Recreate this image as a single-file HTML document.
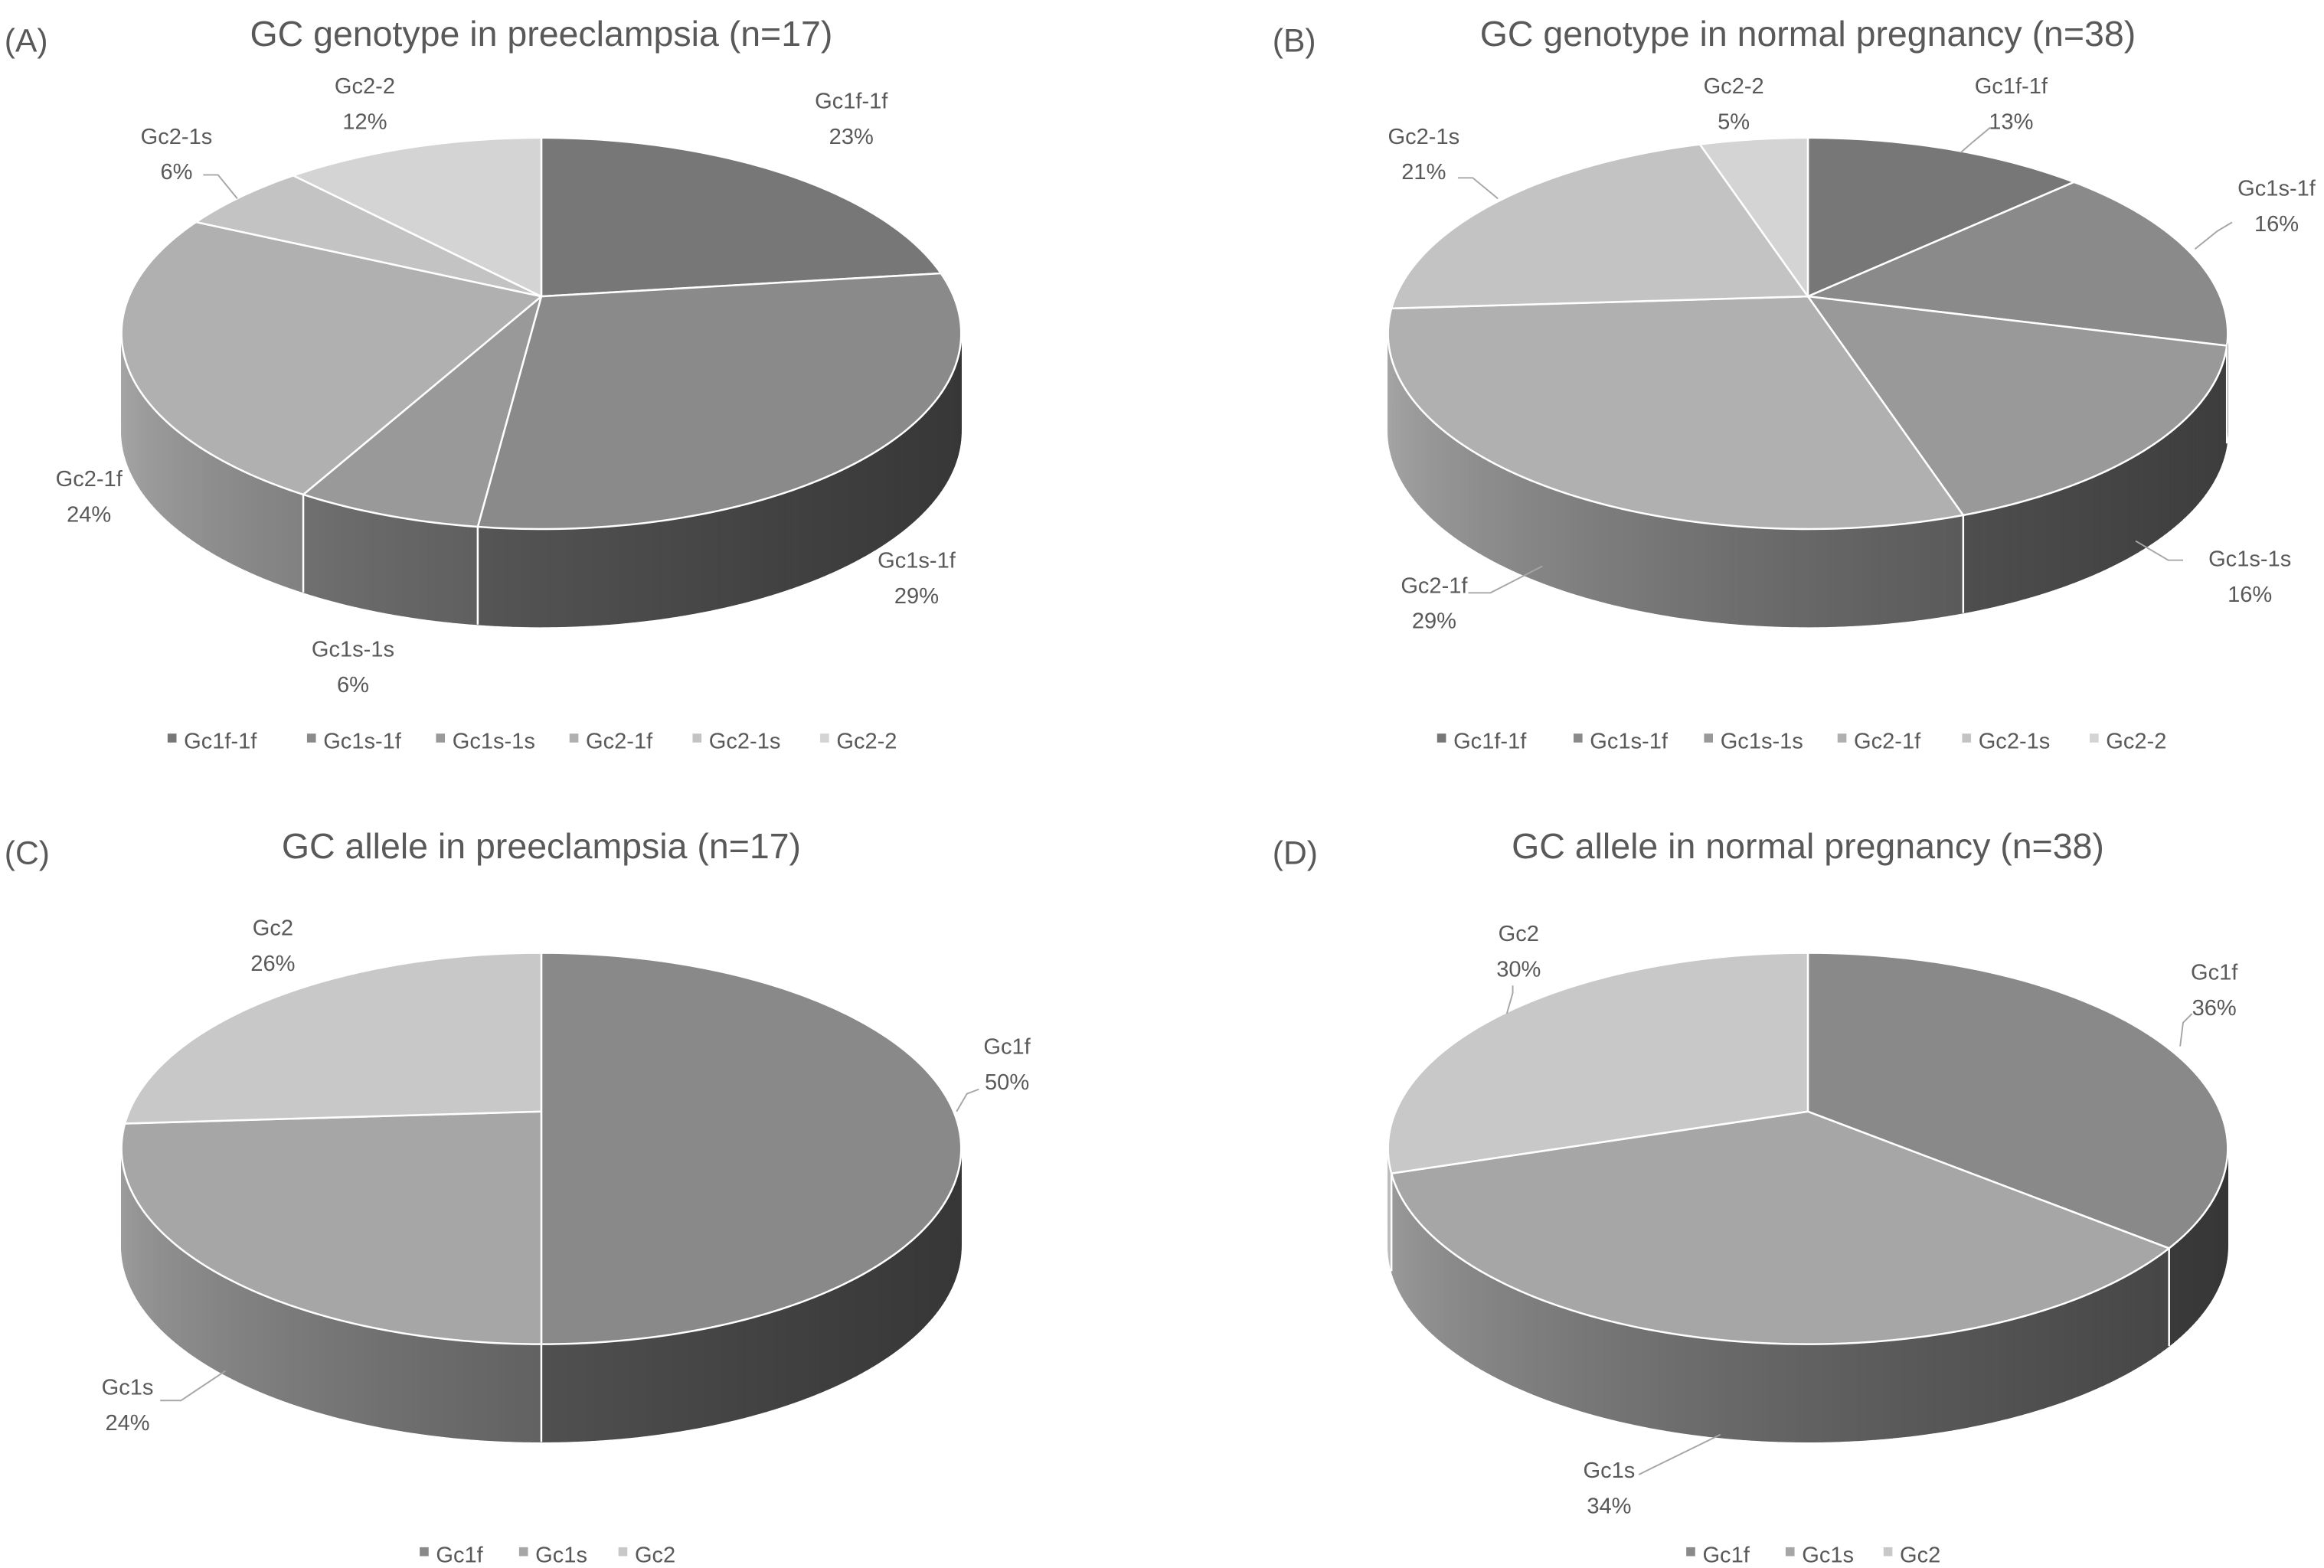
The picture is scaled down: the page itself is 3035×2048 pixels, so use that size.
<!DOCTYPE html>
<html><head><meta charset="utf-8"><style>
html,body{margin:0;padding:0;background:#fff;}
svg{display:block;}
text{font-family:"Liberation Sans",sans-serif;fill:#595959;}
</style></head><body>
<svg id="chart" width="3035" height="2048" viewBox="0 0 1567 1058" preserveAspectRatio="none" xmlns="http://www.w3.org/2000/svg">
<g id="pies"></g>
<g id="labels">
<text x="3" y="35" font-size="22">(A)</text>
<text x="858" y="35" font-size="22">(B)</text>
<text x="3" y="583" font-size="22">(C)</text>
<text x="858" y="583" font-size="22">(D)</text>
<text x="365" y="31" font-size="24" text-anchor="middle">GC genotype in preeclampsia (n=17)</text>
<text x="1219" y="31" font-size="24" text-anchor="middle">GC genotype in normal pregnancy (n=38)</text>
<text x="365" y="579" font-size="24" text-anchor="middle">GC allele in preeclampsia (n=17)</text>
<text x="1219" y="579" font-size="24" text-anchor="middle">GC allele in normal pregnancy (n=38)</text>
</g>
<g id="leaders" stroke="#a6a6a6" stroke-width="1" fill="none">
<polyline points="137,118 147,118 160,134"/>
<polyline points="1342,86 1330,96 1322,103"/>
<polyline points="1505,150 1495,156 1480,168"/>
<polyline points="1472,378 1462,378 1440,365"/>
<polyline points="990,400 1005,400 1040,382"/>
<polyline points="983,120 993,120 1010,134"/>
<polyline points="660,735 652,738 645,750"/>
<polyline points="108,945 122,945 152,925"/>
<polyline points="1478,684 1472,690 1470,706"/>
<polyline points="1105,995 1115,990 1160,968"/>
<polyline points="1020,665 1020,670 1016,684"/>
</g>
<g id="legends"></g>
</svg>
<script>
const panelANames = ["Gc1f-1f","Gc1s-1f","Gc1s-1s","Gc2-1f","Gc2-1s","Gc2-2"];
const panelAPercents = [23,29,6,24,6,12];
const panelBNames = ["Gc1f-1f","Gc1s-1f","Gc1s-1s","Gc2-1f","Gc2-1s","Gc2-2"];
const panelBPercents = [13,16,16,29,21,5];
const panelCNames = ["Gc1f","Gc1s","Gc2"];
const panelCPercents = [50,24,26];
const panelDNames = ["Gc1f","Gc1s","Gc2"];
const panelDPercents = [36,34,30];
const genotypeColors = [119,138,153,176,195,212];
const alleleColors = [137,166,200];

const NS = "http://www.w3.org/2000/svg";
const P = 0.189, R = 278, RY = 127.3, DEPTH = 66;
function proj(cx, cy, th){
  const u = Math.sin(th), v = -Math.cos(th), w = 1 - P*v;
  return [cx + R*u/w, cy + RY*v/w];
}
function grey(g){ g=Math.max(0,Math.min(255,Math.round(g))); return "rgb("+g+","+g+","+g+")"; }
function mk(tag, attrs, parent){ const e=document.createElementNS(NS,tag); for(const k in attrs) e.setAttribute(k,attrs[k]); parent.appendChild(e); return e; }

function drawPie(id, cx, cy, names, values, colors, labelSpec){
  const root = document.getElementById("pies");
  const g = mk("g",{},root);
  
  
  const total = values.reduce((a,b)=>a+b,0);
  const sides = mk("g",{},g);
  const tops = mk("g",{},g);
  let a0 = 0;
  const bounds = [];
  values.forEach((c,i)=>{
    const a1 = a0 + c/total*2*Math.PI;
    bounds.push(a0);
    const steps = Math.max(4, Math.ceil((a1-a0)/(Math.PI/180)));
    const angs = [];
    for(let s=0;s<=steps;s++) angs.push(a0+(a1-a0)*s/steps);
    const pts = angs.map(a=>proj(cx,cy,a));
    for(let s=0;s<steps;s++){
      const am=(angs[s]+angs[s+1])/2;
      if(-Math.cos(am) < P-0.12) continue;
      const p1=pts[s], p2=pts[s+1];
      const xm=(p1[0]+p2[0])/2;
      const t=Math.max(0,Math.min(1,(xm-(cx-R*1.02))/(2*R*1.02)));
      const f=0.95-0.55*Math.pow(t,0.6);
      const col=grey(colors[i]*f);
      const q=mk("polygon",{points:`${p1[0]},${p1[1]} ${p2[0]},${p2[1]} ${p2[0]},${p2[1]+DEPTH} ${p1[0]},${p1[1]+DEPTH}`,fill:col,stroke:col,"stroke-width":"0.6"},sides);
      
      
    }
    const d = "M"+cx+","+cy+" L"+pts.map(p=>p[0].toFixed(2)+","+p[1].toFixed(2)).join(" L")+" Z";
    const top = mk("path",{d:d,fill:grey(colors[i]),stroke:"#fff","stroke-width":"1.3","stroke-linejoin":"round"},tops);
    
    
    a0 = a1;
  });
  bounds.forEach(b=>{
    const v=-Math.cos(b);
    if(v>P+0.05){
      const p=proj(cx,cy,b);
      mk("line",{x1:p[0],y1:p[1],x2:p[0],y2:p[1]+DEPTH,stroke:"#fff","stroke-width":"1.3"},sides);
    }
  });
  const lg = mk("g",{},g);
  
  
  values.forEach((c,i)=>{
    const s=labelSpec[i];
    const pct=Math.round(c/total*100)+"%";
    const t1=mk("text",{x:s[0],y:s[1],"font-size":"15","text-anchor":"middle"},lg); t1.textContent=names[i];
    
    
    const t2=mk("text",{x:s[0],y:s[1]+24,"font-size":"15","text-anchor":"middle"},lg); t2.textContent=pct;
    
    
  });
}
function drawLegend(id, names, colors, xs, y){
  const root=document.getElementById("legends");
  const g=mk("g",{},root);
  
  
  names.forEach((n,i)=>{
    const r=mk("rect",{x:xs[i]-11,y:y-10,width:6,height:6,fill:grey(colors[i])},g);
    
    
    const t=mk("text",{x:xs[i],y:y,"font-size":"15"},g); t.textContent=n;
    
    
  });
}
drawPie("pie-a",365,200,panelANames,panelAPercents,genotypeColors,[[574,73],[618,383],[238,443],[60,328],[119,97],[246,63]]);
drawPie("pie-b",1219,200,panelBNames,panelBPercents,genotypeColors,[[1356,63],[1535,132],[1517,382],[967,400],[960,97],[1169,63]]);
drawPie("pie-c",365,750,panelCNames,panelCPercents,alleleColors,[[679,711],[86,941],[184,631]]);
drawPie("pie-d",1219,750,panelDNames,panelDPercents,alleleColors,[[1493,661],[1085,997],[1024,635]]);
drawLegend("legend-a",panelANames,genotypeColors,[124,218,305,395,478,564],505);
drawLegend("legend-b",panelBNames,genotypeColors,[980,1072,1160,1250,1334,1420],505);
drawLegend("legend-c",panelCNames,alleleColors,[294,361,428],1054);
drawLegend("legend-d",panelDNames,alleleColors,[1148,1215,1281],1054);
</script>
</body></html>
